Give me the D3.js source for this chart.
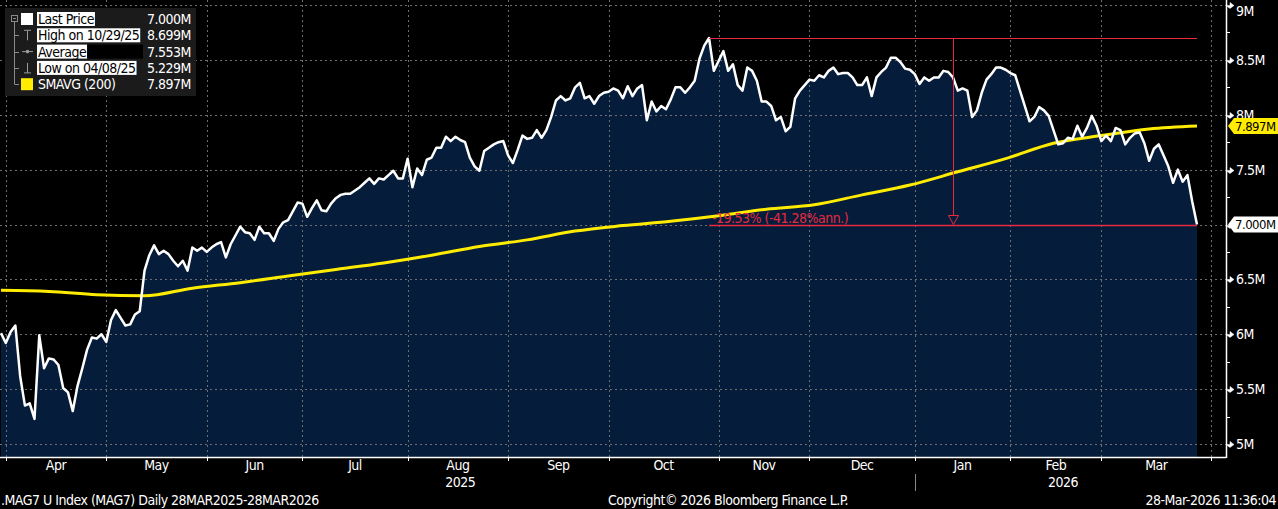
<!DOCTYPE html>
<html>

<head>
  <meta charset="UTF-8">
  <title>MAG7 U Index</title>
  <script src="https://d3js.org/d3.v7.min.js"></script>
  <style>
    body { margin: 0; background: #000; }
    svg { display: block; }
    text { letter-spacing: -0.5px; }
  </style>
</head>

<body>
  <svg></svg>
</body>

<script>
  let width = 1278,
    height = 509;

  // daily closes (millions), one per trading day, 28 Mar 2025 .. 27 Mar 2026
  const price = [
    6.01, 5.92, 6.02, 6.08, 5.62, 5.35, 5.37, 5.229, 5.99, 5.69,
    5.78, 5.77, 5.72, 5.51, 5.47, 5.30, 5.53, 5.69, 5.86, 5.97,
    5.96, 6.00, 5.93, 6.13, 6.22, 6.15, 6.08, 6.09, 6.18, 6.21,
    6.58, 6.72, 6.81, 6.73, 6.76, 6.73, 6.67, 6.62, 6.67, 6.58,
    6.79, 6.76, 6.79, 6.75, 6.79, 6.82, 6.84, 6.70, 6.82, 6.90,
    6.98, 6.93, 6.92, 6.86, 6.98, 6.92, 6.92, 6.85, 6.96, 7.02,
    7.04, 7.12, 7.20, 7.19, 7.07, 7.15, 7.22, 7.13, 7.12, 7.19,
    7.24, 7.27, 7.28, 7.28, 7.31, 7.34, 7.38, 7.42, 7.37, 7.42,
    7.41, 7.45, 7.49, 7.42, 7.42, 7.60, 7.34, 7.51, 7.45, 7.59,
    7.61, 7.70, 7.70, 7.80, 7.76, 7.80, 7.77, 7.75, 7.61, 7.53,
    7.49, 7.67, 7.70, 7.73, 7.75, 7.76, 7.63, 7.56, 7.68, 7.81,
    7.78, 7.79, 7.86, 7.79, 7.86, 7.98, 8.13, 8.17, 8.13, 8.15,
    8.25, 8.29, 8.15, 8.17, 8.10, 8.17, 8.20, 8.21, 8.24, 8.22,
    8.15, 8.26, 8.17, 8.24, 8.27, 7.95, 8.12, 8.03, 8.08, 8.05,
    8.14, 8.25, 8.25, 8.20, 8.25, 8.31, 8.51, 8.63, 8.699, 8.40,
    8.49, 8.58, 8.40, 8.46, 8.27, 8.22, 8.43, 8.40, 8.31, 8.12,
    8.12, 8.08, 7.95, 7.98, 7.85, 7.89, 8.15, 8.22, 8.27, 8.32,
    8.31, 8.36, 8.34, 8.40, 8.43, 8.37, 8.38, 8.38, 8.34, 8.27,
    8.27, 8.34, 8.17, 8.34, 8.39, 8.43, 8.52, 8.52, 8.48, 8.42,
    8.41, 8.37, 8.28, 8.34, 8.31, 8.34, 8.34, 8.40, 8.39, 8.34,
    8.22, 8.24, 8.22, 7.98, 8.04, 8.20, 8.32, 8.37, 8.43, 8.43,
    8.41, 8.38, 8.36, 8.22, 8.08, 7.94, 7.98, 8.07, 8.04, 7.99,
    7.86, 7.73, 7.74, 7.79, 7.78, 7.90, 7.80, 7.88, 7.99, 7.90,
    7.76, 7.81, 7.76, 7.88, 7.86, 7.73, 7.79, 7.83, 7.84, 7.74,
    7.58, 7.69, 7.73, 7.63, 7.53, 7.38, 7.50, 7.39, 7.45, 7.21,
    7.00
  ];

  // 200 day moving average, read every 10 trading days
  const smaDay = [0, 10, 20, 30, 40, 50, 60, 70, 80, 90, 100, 110, 120, 130, 140, 150, 160, 170, 180, 190, 200, 210, 220, 230, 240, 250];
  const smaVal = [6.40, 6.39, 6.36, 6.35, 6.42, 6.47, 6.53, 6.59, 6.65, 6.72, 6.80, 6.86, 6.94, 6.99, 7.03, 7.08, 7.14, 7.18, 7.27, 7.36, 7.48, 7.60, 7.74, 7.81, 7.87, 7.897];

  // month boundaries (trading day index) and labels
  const monthTicks = [1, 22, 43, 63, 85, 106, 127, 150, 169, 191, 211, 230, 253];
  const monthLabels = ["Apr", "May", "Jun", "Jul", "Aug", "Sep", "Oct", "Nov", "Dec", "Jan", "Feb", "Mar"];
  const yearLabels = ["2025", "2026"];
  const yearSpans = [[0, 9], [9, 12]]; // ranges in monthTicks

  const yTicks = [5, 5.5, 6, 6.5, 7, 7.5, 8, 8.5, 9];
  const yMinor = [5.25, 5.75, 6.25, 6.75, 7.25, 7.75, 8.25, 8.75];

  const legendLabels = ["Last Price", "High on 10/29/25", "Average", "Low on 04/08/25", "SMAVG (200)"];
  const legendValues = ["7.000M", "8.699M", "7.553M", "5.229M", "7.897M"];

  const highIdx = 148;
  const lastIdx = price.length - 1;
  const changeText = "-19.53% (-41.28%ann.)";

  const F = "'Liberation Sans Narrow', 'Arial Narrow', 'DejaVu Sans Condensed', sans-serif";
  const RED = "#e8293f";
  const YEL = "#ffec00";
  const GRID = "#6e6e6e";

  let svg = d3.select("svg")
    .attr("width", width)
    .attr("height", height)
    .style("background", "#000")
    .style("font-family", F);

  let x = d3.scaleLinear().domain([0, 250]).range([1, 1197]);
  let y = d3.scaleLinear().domain([5, 9]).range([444, 5]);
  let axisX = 1226, axisY = 457;

  // area under price
  let area = d3.area()
    .x((d, i) => x(i))
    .y0(axisY)
    .y1(d => y(d));
  svg.append("path")
    .datum(price)
    .attr("d", area)
    .attr("fill", "#051d3b");

  // grid
  let grid = svg.append("g").attr("stroke", GRID).attr("stroke-dasharray", "2,3").attr("stroke-width", 1);
  grid.selectAll("line.h")
    .data(yTicks)
    .enter()
    .append("line")
    .attr("x1", 0).attr("x2", axisX)
    .attr("y1", d => Math.round(y(d)) + 0.5)
    .attr("y2", d => Math.round(y(d)) + 0.5);
  grid.selectAll("line.v")
    .data(monthTicks)
    .enter()
    .append("line")
    .attr("x1", d => Math.round(x(d)) + 0.5)
    .attr("x2", d => Math.round(x(d)) + 0.5)
    .attr("y1", 0).attr("y2", axisY);

  // moving average
  let smaLine = d3.line()
    .x(d => x(d[0]))
    .y(d => y(d[1]))
    .curve(d3.curveMonotoneX);
  svg.append("path")
    .datum(d3.zip(smaDay, smaVal))
    .attr("d", smaLine)
    .attr("fill", "none")
    .attr("stroke", YEL)
    .attr("stroke-width", 3);

  // price line
  let line = d3.line()
    .x((d, i) => x(i))
    .y(d => y(d));
  svg.append("path")
    .datum(price)
    .attr("d", line)
    .attr("fill", "none")
    .attr("stroke", "#fff")
    .attr("stroke-width", 2.5)
    .attr("stroke-linejoin", "round");

  // high / last annotation
  let ann = svg.append("g");
  let yHigh = Math.round(y(price[highIdx])) + 0.5;
  let yLast = Math.round(y(price[lastIdx])) + 0.5;
  let midX = Math.round(x((highIdx + lastIdx) / 2)) + 0.5;
  ann.append("line")
    .attr("x1", x(highIdx)).attr("x2", x(lastIdx))
    .attr("y1", yHigh).attr("y2", yHigh)
    .attr("stroke", RED).attr("stroke-width", 1);
  ann.append("line")
    .attr("x1", x(highIdx)).attr("x2", x(lastIdx))
    .attr("y1", yLast).attr("y2", yLast)
    .attr("stroke", RED).attr("stroke-width", 1.5);
  ann.append("line")
    .attr("x1", midX).attr("x2", midX)
    .attr("y1", yHigh).attr("y2", yLast - 10)
    .attr("stroke", RED).attr("stroke-width", 1);
  ann.append("path")
    .attr("d", "M" + (midX - 5) + "," + (yLast - 10) + "H" + (midX + 5) + "L" + midX + "," + (yLast - 1) + "Z")
    .attr("fill", "none")
    .attr("stroke", RED)
    .attr("stroke-width", 1);
  ann.append("text")
    .attr("x", x(highIdx) + 3)
    .attr("y", yLast - 3)
    .attr("fill", RED)
    .attr("font-size", 14)
    .text(changeText);

  // bottom axis
  let bx = svg.append("g");
  bx.append("line")
    .attr("x1", 0).attr("x2", axisX)
    .attr("y1", axisY + 0.5).attr("y2", axisY + 0.5)
    .attr("stroke", "#fff").attr("stroke-width", 1.5);
  bx.selectAll("line.t")
    .data(monthTicks)
    .enter()
    .append("line")
    .attr("x1", d => Math.round(x(d)) + 0.5)
    .attr("x2", d => Math.round(x(d)) + 0.5)
    .attr("y1", axisY).attr("y2", axisY + 4)
    .attr("stroke", "#fff");
  bx.selectAll("text.m")
    .data(monthLabels)
    .enter()
    .append("text")
    .attr("x", (d, i) => (x(monthTicks[i]) + x(monthTicks[i + 1])) / 2)
    .attr("y", 470)
    .attr("text-anchor", "middle")
    .attr("fill", "#fff")
    .attr("font-size", 14)
    .text(d => d);
  bx.selectAll("text.y")
    .data(yearLabels)
    .enter()
    .append("text")
    .attr("x", (d, i) => (x(monthTicks[yearSpans[i][0]]) + x(monthTicks[yearSpans[i][1]])) / 2)
    .attr("y", 487)
    .attr("text-anchor", "middle")
    .attr("fill", "#fff")
    .attr("font-size", 14)
    .text(d => d);
  let sepX = Math.round(x(monthTicks[yearSpans[1][0]])) + 0.5;
  bx.append("line")
    .attr("x1", sepX).attr("x2", sepX)
    .attr("y1", 474).attr("y2", 491)
    .attr("stroke", "#888");

  // right axis
  let ry = svg.append("g");
  ry.append("line")
    .attr("x1", axisX + 0.5).attr("x2", axisX + 0.5)
    .attr("y1", 0).attr("y2", axisY + 1)
    .attr("stroke", "#fff").attr("stroke-width", 1.5);
  ry.selectAll("line.minor")
    .data(yMinor)
    .enter()
    .append("line")
    .attr("x1", axisX).attr("x2", axisX + 4)
    .attr("y1", d => Math.round(y(d)) + 0.5)
    .attr("y2", d => Math.round(y(d)) + 0.5)
    .attr("stroke", "#fff");
  ry.selectAll("path.major")
    .data(yTicks)
    .enter()
    .append("path")
    .attr("d", d => {
      let yy = Math.round(y(d)) + 0.5;
      return "M" + axisX + "," + yy + "H" + (axisX + 4) + "V" + (yy - 3) + "L" + (axisX + 8) + "," + yy + "L" + (axisX + 4) + "," + (yy + 3) + "Z";
    })
    .attr("fill", "#fff")
    .attr("stroke", "#fff")
    .attr("stroke-width", 0.5);
  // the last price tag sits on the 7M label, so that one is left out
  ry.selectAll("text")
    .data(yTicks.filter(d => d != price[lastIdx]))
    .enter()
    .append("text")
    .attr("x", axisX + 10)
    .attr("y", d => Math.max(y(d), 11))
    .attr("dy", "0.35em")
    .attr("fill", "#fff")
    .attr("font-size", 14)
    .text(d => d + "M");

  // value tags on the right axis
  function tag(v, bg, label) {
    let yy = y(v);
    svg.append("path")
      .attr("d", "M" + (axisX + 2) + "," + yy + "L" + (axisX + 8) + "," + (yy - 8) + "H" + width + "V" + (yy + 8) + "H" + (axisX + 8) + "Z")
      .attr("fill", bg);
    svg.append("text")
      .attr("x", axisX + 9)
      .attr("y", yy)
      .attr("dy", "0.36em")
      .attr("fill", "#000")
      .attr("font-size", 13)
      .text(label);
  }
  tag(smaVal[smaVal.length - 1], YEL, legendValues[4]);
  tag(price[lastIdx], "#fff", legendValues[0]);

  // legend
  let lg = svg.append("g");
  lg.append("rect")
    .attr("x", 5).attr("y", 8)
    .attr("width", 191).attr("height", 88)
    .attr("fill", "#1b1b1b");
  let rowY = d3.range(legendLabels.length).map(i => 19 + i * 16.3);
  // tree lines
  lg.append("rect")
    .attr("x", 11.5).attr("y", 15.5).attr("width", 6).attr("height", 6)
    .attr("fill", "none").attr("stroke", "#8a8a8a");
  lg.append("line").attr("x1", 13).attr("x2", 16).attr("y1", 18.5).attr("y2", 18.5).attr("stroke", "#8a8a8a");
  lg.append("line").attr("x1", 14.5).attr("x2", 14.5).attr("y1", 22).attr("y2", rowY[4]).attr("stroke", "#8a8a8a");
  rowY.slice(1).forEach(ry0 => {
    lg.append("line").attr("x1", 14.5).attr("x2", 19).attr("y1", Math.round(ry0) + 0.5).attr("y2", Math.round(ry0) + 0.5).attr("stroke", "#8a8a8a");
  });
  // icons
  lg.append("rect").attr("x", 21).attr("y", rowY[0] - 6).attr("width", 12).attr("height", 12).attr("fill", "#fff");
  lg.append("path")
    .attr("d", "M24," + (rowY[1] - 5) + "H31M27.5," + (rowY[1] - 5) + "V" + (rowY[1] + 5))
    .attr("stroke", "#9a9a9a").attr("fill", "none");
  lg.append("line").attr("x1", 22).attr("x2", 33).attr("y1", rowY[2]).attr("y2", rowY[2]).attr("stroke", "#9a9a9a");
  lg.append("circle").attr("cx", 27.5).attr("cy", rowY[2]).attr("r", 1.8).attr("fill", "#9a9a9a");
  lg.append("path")
    .attr("d", "M24," + (rowY[3] + 5) + "H31M27.5," + (rowY[3] + 5) + "V" + (rowY[3] - 5))
    .attr("stroke", "#9a9a9a").attr("fill", "none");
  lg.append("rect").attr("x", 21).attr("y", rowY[4] - 6).attr("width", 12).attr("height", 12).attr("fill", YEL);

  legendLabels.forEach((lab, i) => {
    let t = lg.append("text")
      .attr("x", 38)
      .attr("y", rowY[i])
      .attr("dy", "0.36em")
      .attr("font-size", 14)
      .attr("fill", i < 4 ? "#000" : "#fff")
      .text(lab);
    if (i < 4) {
      let w = t.node().getComputedTextLength();
      lg.insert("rect", "text")
        .attr("x", 37).attr("y", rowY[i] - 7)
        .attr("width", w + 2).attr("height", 14)
        .attr("fill", "#fff");
      if (i == 2) {
        lg.insert("rect", "text")
          .attr("x", 37 + w + 2).attr("y", rowY[i] - 7)
          .attr("width", 143 - (37 + w + 2)).attr("height", 14)
          .attr("fill", "#000");
      }
    }
    lg.append("text")
      .attr("x", 191)
      .attr("y", rowY[i])
      .attr("dy", "0.36em")
      .attr("text-anchor", "end")
      .attr("font-size", 14)
      .attr("fill", "#fff")
      .text(legendValues[i]);
  });

  // footer
  let ft = svg.append("g").attr("fill", "#fff").attr("font-size", 14);
  ft.append("text").attr("x", 1).attr("y", 505).text(".MAG7 U Index (MAG7) Daily 28MAR2025-28MAR2026");
  ft.append("text").attr("x", 728).attr("y", 505).attr("text-anchor", "middle").text("Copyright\u00a9 2026 Bloomberg Finance L.P.");
  ft.append("text").attr("x", 1276).attr("y", 505).attr("text-anchor", "end").text("28-Mar-2026 11:36:04");
</script>

</html>
